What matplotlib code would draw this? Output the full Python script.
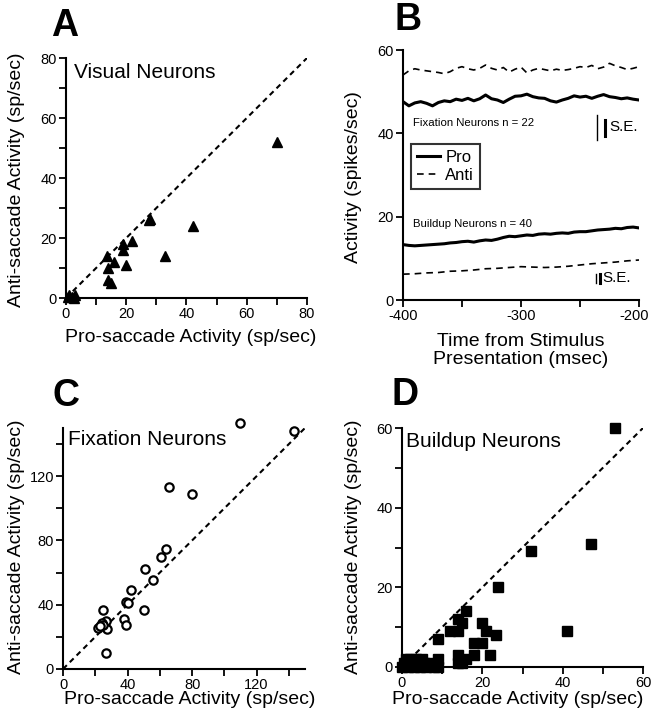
import matplotlib
matplotlib.use("Agg")
import matplotlib.pyplot as plt
import matplotlib.transforms as mtransforms
from matplotlib.ticker import MultipleLocator

plt.rcParams['font.family'] = ['Liberation Sans', 'DejaVu Sans']

# Panel A: visual neurons
vis_pro = [70, 42, 33, 28, 27.5, 22, 19, 19, 20, 16, 13.5, 14, 14, 15, 1, 2, 3, 0.5, 2.5]
vis_anti = [52, 24, 14, 26.5, 26, 19, 18, 16, 11, 12, 14, 10, 6, 5, 1, 0.5, 1, 0.5, 0]

# Panel C: fixation neurons
fix_pro = [110, 143, 66, 80, 64, 61, 51, 55.5, 42, 39, 40, 50, 38, 39,
           25, 26.5, 24, 22, 27, 26.5, 25, 23]
fix_anti = [153, 148, 113, 109, 75, 70, 62, 55.5, 49, 42, 41, 36.5, 31, 27.5,
            37, 30, 28.5, 25.5, 25, 10, 27.5, 26.5]

# Panel D: buildup neurons
bu_pro = [53, 47, 32, 24, 41, 23.5, 16, 14, 15, 12, 14, 20, 21, 18, 20, 18, 22,
          14, 14, 15, 16, 9,
          0, 1, 2, 3, 4, 5, 6, 7, 8, 9, 9, 0.5, 1.5, 2.5, 3.5, 4.5, 5.5, 1]
bu_anti = [60, 31, 29, 20, 9, 8, 14, 12, 11, 9, 9, 11, 9, 6, 6, 3, 3,
           3, 1, 1, 2, 7,
           0, 1, 2, 0, 1, 2, 0, 1, 0, 2, 0, 1, 0, 1, 2, 0, 1, 2]

# Panel B: population activity
t5 = list(range(-400, -199, 5))
t10 = list(range(-400, -199, 10))
fixn_anti = [54.0, 55.0, 55.5, 55.2, 55.0, 54.8, 54.6, 54.3, 54.8, 55.6, 56.0,
             55.5, 55.2, 55.6, 56.4, 55.6, 55.2, 55.8, 54.7, 55.4, 55.9, 54.5,
             55.2, 55.6, 55.3, 55.0, 55.4, 55.1, 55.3, 55.6, 56.0, 55.8, 56.3,
             55.5, 55.9, 56.8, 56.2, 55.8, 55.3, 55.6, 56.0]
fixn_pro = [47.6, 46.6, 47.3, 47.6, 47.2, 46.6, 47.4, 47.8, 47.6, 48.2, 47.9,
            48.4, 47.8, 48.3, 49.2, 48.3, 48.0, 47.4, 48.2, 48.9, 49.0, 49.4,
            48.8, 48.5, 48.4, 47.8, 47.5, 48.0, 48.4, 49.0, 48.7, 48.9, 48.4,
            48.9, 49.3, 48.8, 48.6, 48.3, 48.5, 48.2, 48.0]
bun_pro = [13.3, 13.1, 13.0, 13.1, 13.2, 13.3, 13.4, 13.5, 13.7, 13.8, 14.0,
           14.1, 13.9, 14.2, 14.4, 14.3, 14.6, 15.0, 15.3, 15.2, 15.4, 15.6,
           15.5, 15.8, 15.9, 15.8, 16.0, 16.1, 16.0, 16.3, 16.4, 16.4, 16.6,
           16.8, 16.9, 17.0, 17.2, 17.1, 17.4, 17.5, 17.3]
bun_anti = [6.2, 6.3, 6.5, 6.6, 6.9, 7.0, 7.2, 7.5, 7.6, 7.8, 8.0, 7.9, 7.8,
            7.9, 8.1, 8.4, 8.7, 8.9, 9.1, 9.4, 9.6]

W, H = 652, 720
fig = plt.figure(figsize=(W / 100, H / 100), dpi=100)


def box(x0, y0, x1, y1):
    return [x0 / W, 1 - y1 / H, (x1 - x0) / W, (y1 - y0) / H]


def ftext(x, y, s, **kw):
    fig.text(x / W, 1 - y / H, s, ha='center', va='center', **kw)


def style(ax):
    for s in ['top', 'right']:
        ax.spines[s].set_visible(False)
    for s in ['left', 'bottom']:
        ax.spines[s].set_linewidth(1.5)
    ax.tick_params(which='both', direction='out', width=1.3, labelsize=10.5, pad=1.5)
    ax.tick_params(which='major', length=5)
    ax.tick_params(which='minor', length=5)


DASH = (0, (2.6, 2.0))
BDASH = (0, (4.0, 3.0))
LAB = 14

# ---- A
axA = fig.add_axes(box(66, 58, 307, 298))
axA.plot([0, 80], [0, 80], color='black', lw=1.5, linestyle=DASH)
axA.plot(vis_pro, vis_anti, '^', color='black', ms=7, clip_on=False)
axA.set_xlim(0, 80)
axA.set_ylim(0, 80)
axA.xaxis.set_major_locator(MultipleLocator(20))
axA.xaxis.set_minor_locator(MultipleLocator(10))
axA.yaxis.set_major_locator(MultipleLocator(20))
axA.yaxis.set_minor_locator(MultipleLocator(10))
style(axA)
axA.text(2.5, 75, 'Visual Neurons', fontsize=15, va='center')

# ---- B
axB = fig.add_axes(box(403, 50, 639, 300))
axB.plot(t5, fixn_anti, color='black', lw=1.2, linestyle=BDASH)
axB.plot(t5, fixn_pro, color='black', lw=2.2, label='Pro')
axB.plot(t5, bun_pro, color='black', lw=2.2)
axB.plot(t10, bun_anti, color='black', lw=1.2, linestyle=BDASH, label='Anti')
axB.set_xlim(-400, -200)
axB.set_ylim(0, 60)
axB.set_xticks([-400, -350, -300, -250, -200])
axB.set_xticklabels(['-400', '', '-300', '', '-200'])
axB.set_yticks([0, 20, 40, 60])
style(axB)
shift = mtransforms.ScaledTranslation(-5 / 100, 0, fig.dpi_scale_trans)
lab200 = axB.get_xticklabels()[-1]
lab200.set_transform(lab200.get_transform() + shift)
# S.E. bars
axB.plot([-236, -236], [38.4, 44.4], color='black', lw=1.0)
axB.plot([-229, -229], [39.4, 43.2], color='black', lw=2.2)
axB.text(-225, 41.5, 'S.E.', fontsize=11, va='center')
axB.plot([-236.5, -236.5], [4.2, 6.2], color='black', lw=1.0)
axB.plot([-233, -233], [4.1, 6.3], color='black', lw=2.2)
axB.text(-231, 5.2, 'S.E.', fontsize=11, va='center')
axB.text(-391.5, 42.6, 'Fixation Neurons n = 22', fontsize=8.2, va='center')
axB.text(-391.5, 18.2, 'Buildup Neurons n = 40', fontsize=8.2, va='center')
leg = axB.legend(loc='upper left', bbox_to_anchor=(0.035, 0.625), fontsize=12,
                 frameon=True, fancybox=False, edgecolor='black',
                 handlelength=1.4, handletextpad=0.3, borderpad=0.35,
                 labelspacing=0.2, borderaxespad=0)
leg.get_frame().set_linewidth(1.5)

# ---- C
axC = fig.add_axes(box(63, 428, 305, 669))
axC.plot([0, 150], [0, 150], color='black', lw=1.5, linestyle=DASH)
axC.plot(fix_pro, fix_anti, 'o', mfc='white', mec='black', mew=1.6, ms=6,
         clip_on=False)
axC.set_xlim(0, 150)
axC.set_ylim(0, 150)
axC.xaxis.set_major_locator(MultipleLocator(40))
axC.xaxis.set_minor_locator(MultipleLocator(20))
axC.yaxis.set_major_locator(MultipleLocator(40))
axC.yaxis.set_minor_locator(MultipleLocator(20))
style(axC)
axC.text(3, 143, 'Fixation Neurons', fontsize=15, va='center')

# ---- D
axD = fig.add_axes(box(402, 428, 643, 667))
axD.plot([0, 60], [0, 60], color='black', lw=1.5, linestyle=DASH)
axD.plot(bu_pro, bu_anti, 's', color='black', ms=7, clip_on=False)
axD.set_xlim(0, 60)
axD.set_ylim(0, 60)
axD.xaxis.set_major_locator(MultipleLocator(20))
axD.xaxis.set_minor_locator(MultipleLocator(10))
axD.yaxis.set_major_locator(MultipleLocator(20))
axD.yaxis.set_minor_locator(MultipleLocator(10))
style(axD)
axD.text(1, 56.5, 'Buildup Neurons', fontsize=15, va='center')

# axis labels
ftext(191, 338, 'Pro-saccade Activity (sp/sec)', fontsize=LAB)
ftext(17, 180, 'Anti-saccade Activity (sp/sec)', fontsize=LAB, rotation=90)
ftext(354, 177, 'Activity (spikes/sec)', fontsize=LAB, rotation=90)
ftext(521, 342, 'Time from Stimulus', fontsize=LAB)
ftext(521, 359, 'Presentation (msec)', fontsize=LAB)
ftext(190, 700, 'Pro-saccade Activity (sp/sec)', fontsize=LAB)
ftext(17, 547, 'Anti-saccade Activity (sp/sec)', fontsize=LAB, rotation=90)
ftext(518, 700, 'Pro-saccade Activity (sp/sec)', fontsize=LAB)
ftext(354, 547, 'Anti-saccade Activity (sp/sec)', fontsize=LAB, rotation=90)

# panel letters
ftext(65, 26, 'A', fontsize=27, fontweight='bold')
ftext(408, 20, 'B', fontsize=27, fontweight='bold')
ftext(66, 396, 'C', fontsize=27, fontweight='bold')
ftext(405, 395, 'D', fontsize=27, fontweight='bold')

fig.savefig('out.png', dpi=100)
